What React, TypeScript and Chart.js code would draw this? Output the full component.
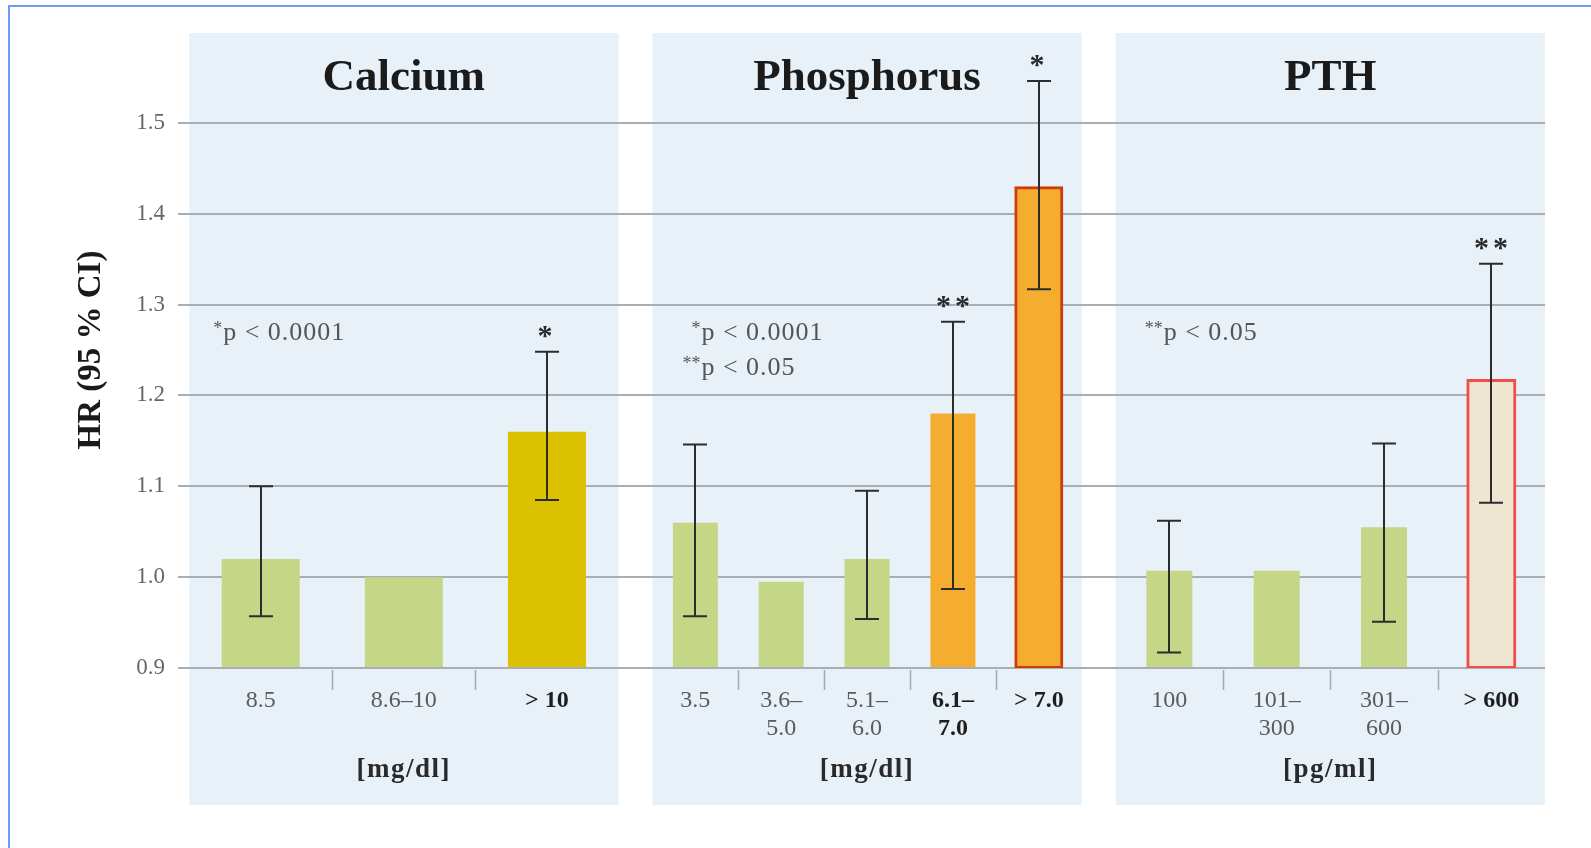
import React, { useEffect, useRef } from "react";
import { Chart, registerables } from "chart.js";

Chart.register(...registerables);

// ---------------- data ----------------
const panelTitles = ["Calcium", "Phosphorus", "PTH"];
const panelUnits = ["[mg/dl]", "[mg/dl]", "[pg/ml]"];

const calciumLabels: (string | string[])[] = ["8.5", "8.6–10", "> 10"];
const calciumHR = [1.02, 1.0, 1.16];
const calciumLow = [0.957, null, 1.085];
const calciumHigh = [1.1, null, 1.248];
const calciumMarks = ["", "", "*"];
const calciumNotes = [["*", "p < 0.0001"]];

const phosphorusLabels: (string | string[])[] = ["3.5", ["3.6–", "5.0"], ["5.1–", "6.0"], ["6.1–", "7.0"], "> 7.0"];
const phosphorusHR = [1.06, 0.995, 1.02, 1.18, 1.428];
const phosphorusLow = [0.957, null, 0.954, 0.987, 1.317];
const phosphorusHigh = [1.146, null, 1.095, 1.281, 1.546];
const phosphorusMarks = ["", "", "", "**", "*"];
const phosphorusNotes = [["*", "p < 0.0001"], ["**", "p < 0.05"]];

const pthLabels: (string | string[])[] = ["100", ["101–", "300"], ["301–", "600"], "> 600"];
const pthHR = [1.007, 1.007, 1.055, 1.216];
const pthLow = [0.917, null, 0.951, 1.082];
const pthHigh = [1.062, null, 1.147, 1.345];
const pthMarks = ["", "", "", "**"];
const pthNotes = [["**", "p < 0.05"]];

const yMin = 0.9;
const yMax = 1.6;
const yStep = 0.1;
const yTitle = "HR (95 % CI)";

// ---------------- styles / layout ----------------
const SERIF = "'Liberation Serif', 'Times New Roman', serif";
const PANEL_BG = "#e9f1f8";
const GRID = "#a9aeb4";
const GREEN = "#c6d687";
const SIG_FILL = ["#dcc100", "#f5ad30", "#efe6d2"];
const SIG_BORDER: Record<string, string> = { "1-4": "#d03a0f", "2-3": "#f24c4c" };
const BAR_PX = [78, 45, 46];
const GAP = 0.079;
const X_MIN = -0.026;
const X_MAX = 2 * (1 + GAP) + 1;
const PANEL_TOP = 33;
const PANEL_BOTTOM = 805;
const NOTE_X = [34, 49, 48];

const panels = [
  { labels: calciumLabels, hr: calciumHR, low: calciumLow, high: calciumHigh, marks: calciumMarks, notes: calciumNotes },
  { labels: phosphorusLabels, hr: phosphorusHR, low: phosphorusLow, high: phosphorusHigh, marks: phosphorusMarks, notes: phosphorusNotes },
  { labels: pthLabels, hr: pthHR, low: pthLow, high: pthHigh, marks: pthMarks, notes: pthNotes },
];

const panelStart = (p: number) => p * (1 + GAP);
const center = (p: number, i: number, n: number) => panelStart(p) + (i + 0.5) / n;

const allCenters: number[] = [];
const allLabels: (string | string[])[] = [];
const allBold: boolean[] = [];
panels.forEach((pn, p) => {
  pn.labels.forEach((l, i) => {
    allCenters.push(center(p, i, pn.labels.length));
    allLabels.push(l);
    allBold.push(pn.marks[i] !== "");
  });
});

function drawCenteredGlyph(ctx: CanvasRenderingContext2D, s: string, x: number, cy: number) {
  const m = ctx.measureText(s);
  const base = cy + (m.actualBoundingBoxAscent - m.actualBoundingBoxDescent) / 2;
  ctx.fillText(s, x, base);
}

const decorPlugin = {
  id: "decor",
  beforeDraw(chart: any) {
    const { ctx, scales } = chart;
    const x = scales.x;
    ctx.save();
    ctx.fillStyle = PANEL_BG;
    panels.forEach((_, p) => {
      const l = x.getPixelForValue(panelStart(p));
      const r = x.getPixelForValue(panelStart(p) + 1);
      ctx.fillRect(l, PANEL_TOP, r - l, PANEL_BOTTOM - PANEL_TOP);
    });
    ctx.restore();
  },
  afterDatasetsDraw(chart: any) {
    const { ctx, scales } = chart;
    const y = scales.y;
    ctx.save();
    panels.forEach((pn, p) => {
      const meta = chart.getDatasetMeta(p);
      pn.hr.forEach((_, i) => {
        const el = meta.data[i];
        const lo = pn.low[i];
        const hi = pn.high[i];
        const cx = Math.round(el.x);
        if (lo != null && hi != null) {
          const y1 = y.getPixelForValue(lo);
          const y2 = y.getPixelForValue(hi);
          ctx.strokeStyle = "#2c2c2c";
          ctx.lineWidth = 2;
          ctx.beginPath();
          ctx.moveTo(cx, y1);
          ctx.lineTo(cx, y2);
          ctx.moveTo(cx - 12, y1);
          ctx.lineTo(cx + 12, y1);
          ctx.moveTo(cx - 12, y2);
          ctx.lineTo(cx + 12, y2);
          ctx.stroke();
          if (pn.marks[i]) {
            ctx.fillStyle = "#2a2a2a";
            ctx.font = `bold 30px ${SERIF}`;
            ctx.textAlign = "center";
            (ctx as any).letterSpacing = "4px";
            drawCenteredGlyph(ctx, pn.marks[i], cx + (pn.marks[i].length > 1 ? 2 : 0), y2 - 20);
            (ctx as any).letterSpacing = "0px";
          }
        }
      });
    });
    ctx.restore();
  },
  afterDraw(chart: any) {
    const { ctx, scales } = chart;
    const x = scales.x;
    const bottom = chart.chartArea.bottom;
    ctx.save();
    panels.forEach((pn, p) => {
      const l = x.getPixelForValue(panelStart(p));
      const r = x.getPixelForValue(panelStart(p) + 1);
      const mid = (l + r) / 2;
      ctx.fillStyle = "#1b1b1b";
      ctx.textAlign = "center";
      ctx.textBaseline = "middle";
      ctx.font = `bold 45px ${SERIF}`;
      ctx.fillText(panelTitles[p], mid, 78);
      ctx.font = `bold 27px ${SERIF}`;
      ctx.fillStyle = "#2a2a2a";
      (ctx as any).letterSpacing = "1.5px";
      ctx.fillText(panelUnits[p], mid, 770);
      (ctx as any).letterSpacing = "0px";
      ctx.strokeStyle = "#a3a9b0";
      ctx.lineWidth = 1.5;
      const n = pn.labels.length;
      for (let i = 1; i < n; i++) {
        const sx = Math.round(x.getPixelForValue(panelStart(p) + i / n)) + 0.5;
        ctx.beginPath();
        ctx.moveTo(sx, bottom + 2);
        ctx.lineTo(sx, bottom + 22);
        ctx.stroke();
      }
      ctx.textBaseline = "alphabetic";
      pn.notes.forEach((note, k) => {
        const px = l + NOTE_X[p];
        const base = 340 + k * 35;
        ctx.fillStyle = "#555555";
        ctx.textAlign = "left";
        ctx.font = `26px ${SERIF}`;
        (ctx as any).letterSpacing = "1px";
        ctx.fillText(note[1], px, base);
        (ctx as any).letterSpacing = "0px";
        ctx.textAlign = "right";
        ctx.font = `18px ${SERIF}`;
        ctx.fillText(note[0], px - 1, base - 6);
      });
    });
    ctx.restore();
  },
};

export default function App() {
  const ref = useRef<HTMLCanvasElement | null>(null);

  useEffect(() => {
    if (!ref.current) return;
    const datasets = panels.map((pn, p) => ({
      label: panelTitles[p],
      data: pn.hr.map((v, i) => ({ x: center(p, i, pn.hr.length), y: v })),
      base: yMin,
      grouped: false,
      barThickness: BAR_PX[p],
      backgroundColor: pn.marks.map((m) => (m ? SIG_FILL[p] : GREEN)),
      borderColor: pn.marks.map((_, i) => SIG_BORDER[`${p}-${i}`] || "rgba(0,0,0,0)"),
      borderWidth: pn.marks.map((_, i) => (SIG_BORDER[`${p}-${i}`] ? 3 : 0)),
      inflateAmount: pn.marks.map((_, i) => (SIG_BORDER[`${p}-${i}`] ? 2 : 0)),
      borderSkipped: false,
    }));

    const chart = new Chart(ref.current, {
      type: "bar",
      data: { datasets } as any,
      plugins: [decorPlugin],
      options: {
        animation: false,
        responsive: false,
        layout: { padding: { left: 0, right: 46, top: 32, bottom: 0 } },
        plugins: { legend: { display: false }, tooltip: { enabled: false } },
        scales: {
          x: {
            type: "linear",
            offset: false,
            min: X_MIN,
            max: X_MAX,
            grid: { display: false, drawTicks: false, offset: false },
            border: { display: false },
            afterBuildTicks: (s: any) => {
              s.ticks = allCenters.map((v) => ({ value: v }));
            },
            afterFit: (s: any) => {
              s.height = 180;
            },
            ticks: {
              autoSkip: false,
              maxRotation: 0,
              minRotation: 0,
              padding: 18,
              callback: (_v: any, i: number) => allLabels[i],
              font: (c: any) => ({ family: SERIF, size: 24, lineHeight: 1.2, weight: allBold[c.index] ? "bold" : "normal" }),
              color: (c: any) => (allBold[c.index] ? "#1e1e1e" : "#5a5a5a"),
            },
          },
          y: {
            min: yMin,
            max: yMax,
            afterFit: (s: any) => {
              s.width = 178;
            },
            grid: {
              drawTicks: false,
              lineWidth: 2,
              color: (c: any) => (c.tick && c.tick.value > 1.55 ? "rgba(0,0,0,0)" : GRID),
            },
            border: { display: false },
            ticks: {
              stepSize: yStep,
              padding: 13,
              font: { family: SERIF, size: 23 },
              color: "#666666",
              callback: (v: any) => (Number(v) > 1.55 ? null : Number(v).toFixed(1)),
            },
            title: {
              display: true,
              text: yTitle,
              font: { family: SERIF, size: 33, weight: "bold" },
              color: "#1a1a1a",
              padding: { top: 72, bottom: 0 },
            },
          },
        },
      } as any,
    });
    return () => chart.destroy();
  }, []);

  return (
    <div style={{ position: "fixed", left: 0, top: 0, width: 1591, height: 848, background: "#ffffff", overflow: "hidden" }}>
      <canvas ref={ref} width={1591} height={848} style={{ display: "block", position: "absolute", left: 0, top: 0 }} />
      <div
        style={{
          position: "absolute",
          left: 8,
          top: 5,
          right: -10,
          bottom: -10,
          borderTop: "2px solid #6a9cfb",
          borderLeft: "2px solid #6a9cfb",
          pointerEvents: "none",
        }}
      />
    </div>
  );
}
